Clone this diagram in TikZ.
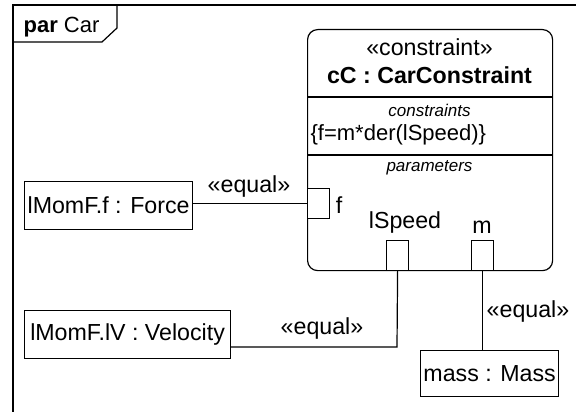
\documentclass[tikz,border=0pt]{standalone}
\usepackage{fontspec}
\setmainfont{Liberation Sans}
\begin{document}
\begin{tikzpicture}[x=1pt,y=-1pt,
  line width=1.2pt,
  txt/.style={inner sep=0pt, font=\fontsize{23.2}{27}\selectfont},
  small/.style={inner sep=0pt, font=\fontsize{17}{20}\selectfont\itshape},
  box/.style={draw, inner sep=0pt, anchor=north west, font=\fontsize{23.2}{27}\selectfont},
  port/.style={draw, fill=white, inner sep=0pt, minimum width=22pt, minimum height=30pt, anchor=north west},
  lbl/.style={inner sep=0pt, font=\fontsize{23.2}{27}\selectfont}]
\useasboundingbox (0,0) rectangle (576,412);
% frame
\draw[line width=1.6pt] (576,5) -- (13,5) -- (13,412);
\draw[line width=1.2pt] (13,42) -- (102,42) -- (117,28) -- (117,5);
\node[txt, anchor=base west, font=\fontsize{22}{26}\selectfont] (title) at (23,33) {\textbf{par} Car};
% constraint block
\node[draw, rounded corners=10pt, inner sep=0pt, minimum width=245pt, minimum height=241pt, anchor=north west] (cbox) at (307,29) {};
\draw (cbox.west |- 0,97) -- (cbox.east |- 0,97);
\draw (cbox.west |- 0,155) -- (cbox.east |- 0,155);
\node[txt] (stereo) at (429.5,47) {«constraint»};
\node[txt] (cname) at (429.5,75) {\textbf{cC : CarConstraint}};
\node[small] (ctitle) at (429.5,110) {constraints};
\node[txt, anchor=west, font=\fontsize{22}{26}\selectfont] (cexpr) at (310,135) {\{f=m*der(lSpeed)\}};
\node[small] (ptitle) at (429.5,168) {parameters};
% ports
\node[port] (fport) at (307,188) {};
\node[port] (sport) at (386,240) {};
\node[port] (mport) at (471,240) {};
\node[lbl] (flbl) at (339,205) {f};
\node[lbl] (slbl) at (405,223) {lSpeed};
\node[lbl] (mlbl) at (482,227) {m};
% parts
\node[box, minimum width=168pt, minimum height=48pt] (force) at (24,181) {lMomF.f : Force};
\node[box, minimum width=206pt, minimum height=48pt] (vel) at (24,310) {lMomF.lV : Velocity};
\node[box, minimum width=138pt, minimum height=46pt] (mass) at (420,350) {mass : Mass};
% connectors
\draw (force.east |- fport.west) -- (fport.west);
\node[lbl] (e1) at (249,187) {«equal»};
\coordinate (vbend) at (397,347);
\draw (vel.east |- vbend) -- (vbend) -- (sport.south);
\node[lbl] (e2) at (322,328) {«equal»};
\draw (mport.south) -- (mport.south |- mass.north);
\node[lbl] (e3) at (528,311) {«equal»};
\end{tikzpicture}
\end{document}
